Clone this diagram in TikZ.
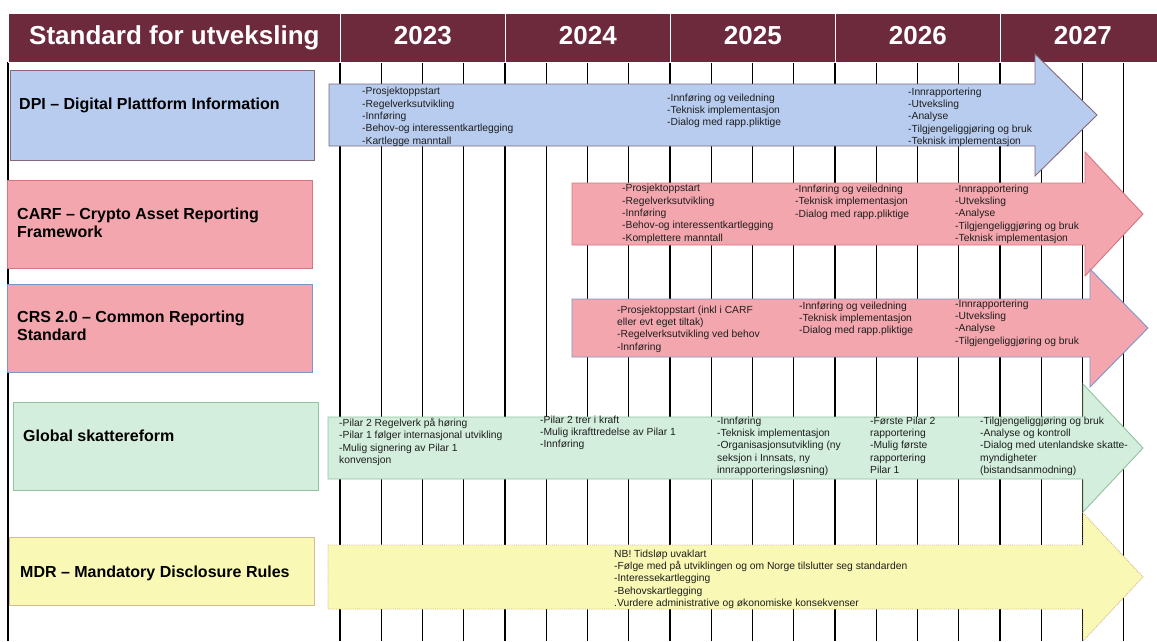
\documentclass[tikz,border=0pt]{standalone}
\usepackage{fontspec}
\setmainfont{Liberation Sans}
\usetikzlibrary{positioning}
\definecolor{wine}{HTML}{6D2A3D}
\definecolor{dpifill}{HTML}{B7CCEE}
\definecolor{dpiedge}{HTML}{86687A}
\definecolor{rosefill}{HTML}{F4A6AE}
\definecolor{roseedge}{HTML}{D5757F}
\definecolor{crsedge}{HTML}{7C95C6}
\definecolor{mintfill}{HTML}{D3EEDC}
\definecolor{mintedge}{HTML}{93C2A0}
\definecolor{lemonfill}{HTML}{F9F8B4}
\definecolor{lemonedge}{HTML}{D6BC90}
\definecolor{ink}{HTML}{1E1E1E}
\newcommand{\oppstart}{-Prosjektoppstart\\-Regelverksutvikling\\-Innføring\\-Behov-og interessentkartlegging}
\newcommand{\veiledning}{-Innføring og veiledning\\-Teknisk implementasjon\\-Dialog med rapp.pliktige}
\newcommand{\drift}{-Innrapportering\\-Utveksling\\-Analyse\\-Tilgjengeliggjøring og bruk}
\newcommand{\fasepil}[7]{\filldraw[#1] (#2,#4) -- (#3,#4) -- (#3,#4-#6) -- (#7,{(#4+#5)/2}) -- (#3,#5+#6) -- (#3,#5) -- (#2,#5) -- cycle;}

\begin{document}
\begin{tikzpicture}[
  x=1pt,y=-1pt,
  hcell/.style={anchor=north west,fill=wine,draw=white,line width=0.8pt,inner sep=0pt,minimum height=49pt,text height=18.6pt,text depth=5pt,text=white,font=\fontsize{26}{30}\selectfont\bfseries},
  rowbox/.style={anchor=north west,inner sep=0pt,minimum width=305pt,minimum height=88pt,line width=0.9pt},
  rowname/.style={align=left,inner sep=0pt,font=\fontsize{16}{18.5}\selectfont\bfseries},
  note/.style={anchor=north west,align=left,inner sep=0pt,text=ink,font=\fontsize{10.3}{12.4}\selectfont},
  qline/.style={line width=1.3pt},
  dpiarr/.style={fill=dpifill,draw=dpiedge,line width=0.9pt},
  carfarr/.style={fill=rosefill,draw=roseedge,line width=0.9pt},
  crsarr/.style={fill=rosefill,draw=crsedge,line width=0.9pt},
  gsarr/.style={fill=mintfill,draw=mintedge,line width=0.9pt},
  mdrarr/.style={fill=lemonfill,draw=lemonedge,line width=0.9pt,densely dotted}
]
\path[use as bounding box,fill=white] (0,0) rectangle (1157,641);

\foreach \k in {0,...,19}
  \draw[qline] (340+41.25*\k,62) -- (340+41.25*\k,641);
\draw[qline] (8,62) -- (8,641);

\node[hcell,minimum width=332pt] (title) at (8,13) {Standard for utveksling};
\foreach \yr [count=\i from 0] in {2023,2024,2025,2026,2027}
  \node[hcell,minimum width=165pt] (y\yr) at (340+165*\i,13) {\yr};

% DPI
\node[rowbox,fill=dpifill,draw=dpiedge,minimum width=304pt,minimum height=90pt] (dpi) at (10,70) {};
\node[rowname,below right=27.5pt and 9pt of dpi.north west] (dpiname) {DPI -- Digital Plattform Information};
\fasepil{dpiarr}{329}{1035}{84}{146}{30}{1097}
\node[note] (dpi1) at (362,87) {\oppstart\\-Kartlegge manntall};
\node[note] (dpi2) at (667,93.5) {\veiledning};
\node[note] (dpi3) at (908,87.5) {\drift\\-Teknisk implementasjon};

% CARF
\node[rowbox,fill=rosefill,draw=roseedge] (carf) at (7,180) {};
\node[rowname,below right=27.5pt and 10pt of carf.north west] (carfname) {CARF -- Crypto Asset Reporting\\Framework};
\fasepil{carfarr}{572}{1085}{183}{245}{31}{1143}
\node[note] (carf1) at (622,184) {\oppstart\\-Komplettere manntall};
\node[note] (carf2) at (795,184.7) {\veiledning};
\node[note] (carf3) at (955,184.5) {\drift\\-Teknisk implementasjon};

% CRS
\node[rowbox,fill=rosefill,draw=crsedge] (crs) at (7,284) {};
\node[rowname,below right=26.5pt and 10pt of crs.north west] (crsname) {CRS 2.0 -- Common Reporting\\Standard};
\fasepil{crsarr}{572}{1090}{299}{357}{30}{1148}
\node[note] (crs1) at (617,305.5) {-Prosjektoppstart (inkl i CARF\\eller evt eget tiltak)\\-Regelverksutvikling ved behov\\-Innføring};
\node[note] (crs2) at (799,301.5) {\veiledning};
\node[note] (crs3) at (955,299.5) {\drift};

% Global skattereform
\node[rowbox,fill=mintfill,draw=mintedge] (gs) at (13,402) {};
\node[rowname,below right=27.5pt and 10pt of gs.north west] (gsname) {Global skattereform};
\fasepil{gsarr}{328}{1083}{417}{479}{33}{1143}
\node[note] (gs1) at (339,418) {-Pilar 2 Regelverk på høring\\-Pilar 1 følger internasjonal utvikling\\-Mulig signering av Pilar 1\\konvensjon};
\node[note] (gs2) at (540,415.5) {-Pilar 2 trer i kraft\\-Mulig ikrafttredelse av Pilar 1\\-Innføring};
\node[note] (gs3) at (717,416.5) {-Innføring\\-Teknisk implementasjon\\-Organisasjonsutvikling (ny\\seksjon i Innsats, ny\\innrapporteringsløsning)};
\node[note] (gs4) at (870,416.5) {-Første Pilar 2\\rapportering\\-Mulig første\\rapportering\\Pilar 1};
\node[note] (gs5) at (980,416.5) {-Tilgjengeliggjøring og bruk\\-Analyse og kontroll\\-Dialog med utenlandske skatte-\\myndigheter\\(bistandsanmodning)};

% MDR
\node[rowbox,fill=lemonfill,draw=lemonedge,minimum height=68pt] (mdr) at (9,537) {};
\node[rowname,below right=28.5pt and 11pt of mdr.north west] (mdrname) {MDR -- Mandatory Disclosure Rules};
\fasepil{mdrarr}{328}{1083}{545}{609}{32}{1143}
\node[note] (mdr1) at (614,549.5) {NB! Tidsløp uvaklart\\-Følge med på utviklingen og om Norge tilslutter seg standarden\\-Interessekartlegging\\-Behovskartlegging\\.Vurdere administrative og økonomiske konsekvenser};
\end{tikzpicture}
\end{document}
